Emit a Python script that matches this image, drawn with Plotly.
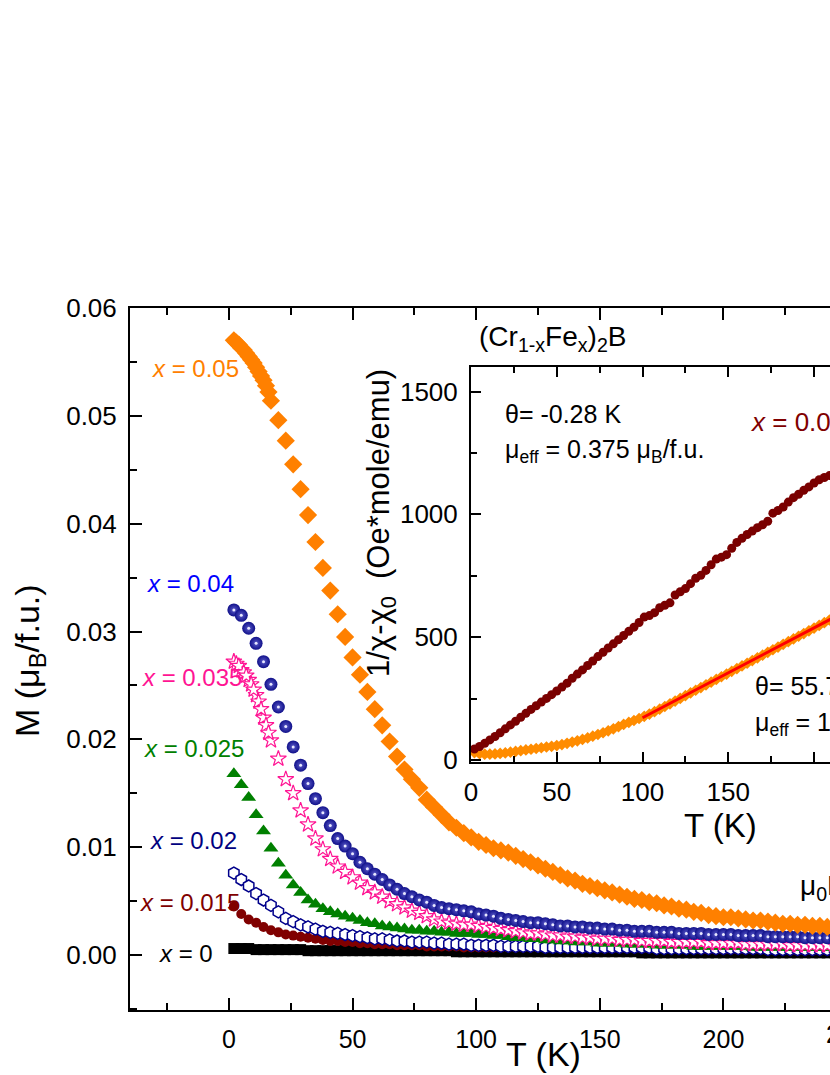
import plotly.graph_objects as go

FONT = "Liberation Sans, Arial, sans-serif"

# temperature grid of the M(T) curves (K)
T = [2, 5, 8, 11, 14, 17, 20, 23, 26, 29,
     32, 35, 38, 41, 44, 47, 50, 53, 56, 59,
     62, 65, 68, 71, 74, 77, 80, 83, 86, 89,
     92, 95, 98, 101, 104, 107, 110, 113, 116, 119,
     122, 125, 128, 131, 134, 137, 140, 143, 146, 149,
     152, 155, 158, 161, 164, 167, 170, 173, 176, 179,
     182, 185, 188, 191, 194, 197, 200, 203, 206, 209,
     212, 215, 218, 221, 224, 227, 230, 233, 236, 239,
     242, 245]

# extra low temperature points (dense part of x=0.05 and x=0.035)
T_low = [3, 4, 6, 7, 9, 10, 12, 13, 15, 16]

M_0 = [0.0006, 0.0006, 0.0006, 0.0005, 0.0005, 0.0005, 0.0005, 0.0005, 0.0005, 0.0005] \
    + [0.0004] * 20 + [0.0003] * 25 + [0.0002] * 27

M_0015 = [0.0045, 0.0038, 0.0033, 0.0030, 0.0026, 0.0023, 0.0021, 0.0019, 0.0018, 0.0017,
          0.0016, 0.0015, 0.0014, 0.0013, 0.0013, 0.0012, 0.0012, 0.0011, 0.0011, 0.0010,
          0.0010, 0.0010, 0.0009, 0.0009, 0.0009, 0.0009, 0.0008, 0.0008, 0.0008, 0.0008,
          0.0008] + [0.0007] * 15 + [0.0006] * 17 + [0.0005] * 12 + [0.0004] * 7

M_002 = [0.0076, 0.0070, 0.0064, 0.0057, 0.0051, 0.0046, 0.0040, 0.0034, 0.0031, 0.0028,
         0.0026, 0.0024, 0.0022, 0.0021, 0.0020, 0.0019, 0.0018, 0.0017, 0.0016, 0.0015,
         0.0015, 0.0014, 0.0013, 0.0013, 0.0012, 0.0012, 0.0012, 0.0011, 0.0011, 0.0010,
         0.0010, 0.0010, 0.0009, 0.0009, 0.0009, 0.0009, 0.0008, 0.0008, 0.0008, 0.0008,
         0.0008, 0.0008] + [0.0007] * 15 + [0.0006] * 15 + [0.0005] * 10

M_0025 = [0.0168, 0.0158, 0.0146, 0.0130, 0.0115, 0.0099, 0.0085, 0.0074, 0.0065, 0.0058,
          0.0051, 0.0047, 0.0043, 0.0040, 0.0038, 0.0036, 0.0034, 0.0032, 0.0030, 0.0029,
          0.0027, 0.0026, 0.0025, 0.0024, 0.0023, 0.0023, 0.0022, 0.0022, 0.0021, 0.0021,
          0.0020, 0.0020, 0.0020, 0.0019, 0.0019, 0.0018, 0.0018, 0.0017, 0.0016, 0.0016,
          0.0015, 0.0015, 0.0014, 0.0014, 0.0013, 0.0013, 0.0012, 0.0012, 0.0012, 0.0011,
          0.0011, 0.0011, 0.0011, 0.0010, 0.0010, 0.0010, 0.0010, 0.0009, 0.0009, 0.0009,
          0.0009, 0.0009, 0.0008, 0.0008, 0.0008, 0.0008, 0.0008, 0.0008, 0.0008, 0.0008,
          0.0007, 0.0007, 0.0007, 0.0007, 0.0007, 0.0007, 0.0007, 0.0007, 0.0007, 0.0007,
          0.0007, 0.0007]

M_0035 = [0.0272, 0.0264, 0.0255, 0.0241, 0.0220, 0.0199, 0.0182, 0.0163, 0.0150, 0.0134,
          0.0121, 0.0108, 0.0098, 0.0089, 0.0082, 0.0077, 0.0072, 0.0067, 0.0062, 0.0058,
          0.0054, 0.0050, 0.0047, 0.0044, 0.0041, 0.0039, 0.0036, 0.0033, 0.0031, 0.0030,
          0.0029, 0.0028, 0.0028, 0.0027, 0.0026, 0.0025, 0.0024, 0.0023, 0.0022, 0.0021,
          0.0020, 0.0020, 0.0019, 0.0018, 0.0018, 0.0017, 0.0017, 0.0016, 0.0016, 0.0015,
          0.0015, 0.0015, 0.0014, 0.0014, 0.0014, 0.0013, 0.0013, 0.0013, 0.0013, 0.0012,
          0.0012, 0.0012, 0.0012, 0.0012, 0.0011, 0.0011, 0.0011, 0.0011, 0.0011, 0.0010,
          0.0010, 0.0010, 0.0010, 0.0010, 0.0010, 0.0009, 0.0009, 0.0009, 0.0009, 0.0009,
          0.0009, 0.0009]
M_0035_low = [0.0270, 0.0268, 0.0262, 0.0259, 0.0251, 0.0246, 0.0235, 0.0228, 0.0213, 0.0206]

M_004 = [0.0320, 0.0315, 0.0303, 0.0289, 0.0272, 0.0251, 0.0230, 0.0212, 0.0193, 0.0176,
         0.0159, 0.0145, 0.0132, 0.0120, 0.0108, 0.0101, 0.0094, 0.0086, 0.0080, 0.0075,
         0.0070, 0.0065, 0.0061, 0.0057, 0.0054, 0.0051, 0.0049, 0.0046, 0.0044, 0.0043,
         0.0042, 0.0041, 0.0040, 0.0038, 0.0037, 0.0036, 0.0034, 0.0033, 0.0032, 0.0031,
         0.0030, 0.0030, 0.0029, 0.0028, 0.0027, 0.0027, 0.0026, 0.0026, 0.0025, 0.0025,
         0.0024, 0.0024, 0.0023, 0.0023, 0.0022, 0.0022, 0.0022, 0.0021, 0.0021, 0.0021,
         0.0020, 0.0020, 0.0020, 0.0020, 0.0019, 0.0019, 0.0019, 0.0019, 0.0018, 0.0018,
         0.0018, 0.0018, 0.0017, 0.0017, 0.0017, 0.0017, 0.0017, 0.0016, 0.0016, 0.0016,
         0.0016, 0.0016]

M_005 = [0.0570, 0.0563, 0.0555, 0.0545, 0.0533, 0.0514, 0.0496, 0.0477, 0.0455, 0.0432,
         0.0408, 0.0383, 0.0359, 0.0338, 0.0316, 0.0295, 0.0276, 0.0260, 0.0244, 0.0228,
         0.0213, 0.0198, 0.0184, 0.0172, 0.0163, 0.0155, 0.0144, 0.0137, 0.0130, 0.0123,
         0.0118, 0.0113, 0.0109, 0.0105, 0.0102, 0.0099, 0.0097, 0.0095, 0.0092, 0.0089,
         0.0086, 0.0083, 0.0080, 0.0077, 0.0074, 0.0071, 0.0069, 0.0066, 0.0064, 0.0062,
         0.0060, 0.0058, 0.0056, 0.0054, 0.0052, 0.0051, 0.0049, 0.0048, 0.0046, 0.0045,
         0.0043, 0.0042, 0.0040, 0.0039, 0.0037, 0.0036, 0.0035, 0.0035, 0.0034, 0.0033,
         0.0032, 0.0032, 0.0031, 0.0030, 0.0029, 0.0029, 0.0028, 0.0028, 0.0027, 0.0027,
         0.0026, 0.0026]
M_005_low = [0.0568, 0.0566, 0.0561, 0.0558, 0.0552, 0.0549, 0.0541, 0.0537, 0.0528, 0.0522]

# inset: 1/(chi - chi0) vs T
T_in = [2, 5, 8, 11, 14, 17, 20, 23, 26, 29,
        32, 35, 38, 41, 44, 47, 50, 53, 56, 59,
        62, 65, 68, 71, 74, 77, 80, 83, 86, 89,
        92, 95, 98, 101, 104, 107, 110, 113, 116, 119,
        122, 125, 128, 131, 134, 137, 140, 143, 146, 149,
        152, 155, 158, 161, 164, 167, 170, 173, 176, 179,
        182, 185, 188, 191, 194, 197, 200, 203, 206, 209,
        212]
inv_chi_0015 = [45, 55, 68, 82, 96, 111, 127, 143, 158, 174,
                190, 206, 221, 236, 251, 266, 281, 297, 313, 333,
                350, 367, 385, 403, 421, 439, 456, 473, 490, 507,
                524, 541, 560, 582, 588, 600, 620, 630, 640, 672,
                685, 698, 718, 740, 752, 772, 795, 818, 826, 836,
                862, 886, 903, 918, 932, 946, 958, 972, 1005, 1016,
                1030, 1050, 1068, 1082, 1098, 1112, 1128, 1141, 1150, 1158,
                1170]
inv_chi_005 = [30, 26, 24, 24, 25, 27, 29, 32, 35, 38,
               41, 44, 47, 50, 53, 56, 59, 63, 68, 73,
               78, 84, 90, 97, 104, 111, 119, 127, 136, 145,
               153, 161, 169, 178, 187, 197, 207, 218, 229, 240,
               251, 262, 273, 284, 295, 306, 317, 328, 339, 350,
               361, 372, 383, 394, 405, 416, 427, 438, 449, 460,
               471, 482, 493, 504, 515, 526, 537, 548, 559, 570,
               581]
fit_T = [100, 212]
fit_inv_chi = [172, 582]

W, H = 830, 1075
L, R, TOP, BOT = 130, 830, 308, 1010


def px(x):
    return (x - L) / (R - L)


def py(y):
    return (BOT - y) / (BOT - TOP)


fig = go.Figure()

main = [
    (T, M_0, dict(symbol="square", size=11, color="black")),
    (T, M_0015, dict(symbol="circle", size=10, color="#800000")),
    (T, M_002, dict(symbol="hexagon", size=12, color="white",
                    line=dict(color="#00008B", width=1.5))),
    (T, M_0025, dict(symbol="triangle-up", size=13, color="#008000")),
    (T + T_low, M_0035 + M_0035_low, dict(symbol="star", size=12, color="white",
                                          line=dict(color="#FF1493", width=1.2))),
    (T, M_004, dict(symbol="circle", size=13, color="#10108A",
                    gradient=dict(type="radial", color="#5A5AC8"))),
    (T, M_004, dict(symbol="circle", size=3, color="#E8E8FF")),
    (T + T_low, M_005 + M_005_low, dict(symbol="diamond", size=14, color="#FF8000")),
]
for xs, ys, mk in main:
    fig.add_trace(go.Scatter(x=xs, y=ys, mode="markers", marker=mk,
                             xaxis="x", yaxis="y", hoverinfo="skip"))

fig.add_trace(go.Scatter(x=T_in, y=inv_chi_005, mode="markers",
                         marker=dict(symbol="diamond", size=9, color="#FF8C00"),
                         xaxis="x2", yaxis="y2"))
fig.add_trace(go.Scatter(x=T_in, y=inv_chi_0015, mode="markers",
                         marker=dict(symbol="circle", size=9, color="#7A0000"),
                         xaxis="x2", yaxis="y2"))
fig.add_trace(go.Scatter(x=fit_T, y=fit_inv_chi, mode="lines",
                         line=dict(color="#FF0000", width=3),
                         xaxis="x2", yaxis="y2"))

axis_common = dict(showline=True, linewidth=2, linecolor="black", ticks="inside",
                   tickwidth=2, tickcolor="black", showgrid=False, zeroline=False)

fig.update_layout(
    width=W, height=H,
    margin=dict(l=L, r=W - R, t=TOP, b=H - BOT),
    plot_bgcolor="white", paper_bgcolor="white",
    showlegend=False,
    font=dict(family=FONT, color="black"),
    xaxis=dict(domain=[0, 1], range=[-40, 243.1], tick0=0, dtick=50, ticklen=12,
               mirror="ticks", tickfont=dict(size=25), ticklabelstandoff=6,
               minor=dict(ticks="inside", ticklen=7, tickwidth=2, tickcolor="black",
                          dtick=25, tick0=0, showgrid=False),
               **axis_common),
    yaxis=dict(domain=[0, 1], range=[-0.0051, 0.06], tick0=0, dtick=0.01,
               tickformat=".2f", ticklen=12, mirror=False, tickfont=dict(size=26),
               ticklabelstandoff=6,
               minor=dict(ticks="inside", ticklen=7, tickwidth=2, tickcolor="black",
                          dtick=0.005, tick0=0, showgrid=False),
               **axis_common),
    xaxis2=dict(domain=[px(471), 1], anchor="y2", range=[0, 209.3], tick0=0, dtick=50,
                ticklen=10, mirror="ticks", tickfont=dict(size=26), ticklabelstandoff=6,
                minor=dict(ticks="inside", ticklen=6, tickwidth=2, tickcolor="black",
                           dtick=25, tick0=0, showgrid=False),
                **axis_common),
    yaxis2=dict(domain=[py(762), py(367)], anchor="x2", range=[-8, 1600], tick0=0,
                dtick=500, ticklen=10, mirror=False, tickfont=dict(size=26),
                ticklabelstandoff=6,
                minor=dict(ticks="inside", ticklen=6, tickwidth=2, tickcolor="black",
                           dtick=250, tick0=0, showgrid=False),
                **axis_common),
)


def note(text, x, y, size, color="black", xanchor="left", angle=0):
    fig.add_annotation(text=text, x=px(x), y=py(y), xref="paper", yref="paper",
                       xanchor=xanchor, yanchor="middle", showarrow=False,
                       textangle=angle, font=dict(size=size, color=color, family=FONT))


# axis titles
note("T (K)", 543, 1054, 34, xanchor="center")
note("M (μ<sub>B</sub>/f.u.)", 29, 661, 34, xanchor="center", angle=-90)
note("250", 847, 1034, 25, xanchor="center")

# composition labels
note("<i>x</i> = 0.05", 150, 368, 24, "#FF8000")
note("<i>x</i> = 0.04", 145, 583, 24, "#0000FF")
note("<i>x</i> = 0.035", 140, 677, 24, "#FF1493")
note("<i>x</i> = 0.025", 142, 748, 24, "#008000")
note("<i>x</i> = 0.02", 148, 840, 24, "#000080")
note("<i>x</i> = 0.015", 138, 902, 24, "#800000")
note("<i>x</i> = 0", 157, 953, 24, "black")
note("μ<sub>0</sub>H = 0.1 T", 798, 887, 28)

# inset texts
note("(Cr<sub>1-x</sub>Fe<sub>x</sub>)<sub>2</sub>B", 477, 338, 28)
note("1/χ-χ<sub>0</sub>  (Oe*mole/emu)", 381, 523, 31, xanchor="center", angle=-90)
note("T (K)", 720, 825, 33, xanchor="center")
note("θ= -0.28 K", 503, 414, 25)
note("μ<sub>eff</sub> = 0.375 μ<sub>B</sub>/f.u.", 503, 451, 25)
note("<i>x</i> = 0.015", 748, 422, 26, "#800000")
note("θ= 55.7 K", 753, 686, 25)
note("μ<sub>eff</sub> = 1.24 μ<sub>B</sub>/f.u.", 753, 724, 25)

# the page body has a default 8px margin; remove it so the figure sits at 0,0
fig.write_html("out.html", config={"displayModeBar": False},
               post_script="document.body.style.margin='0';")
